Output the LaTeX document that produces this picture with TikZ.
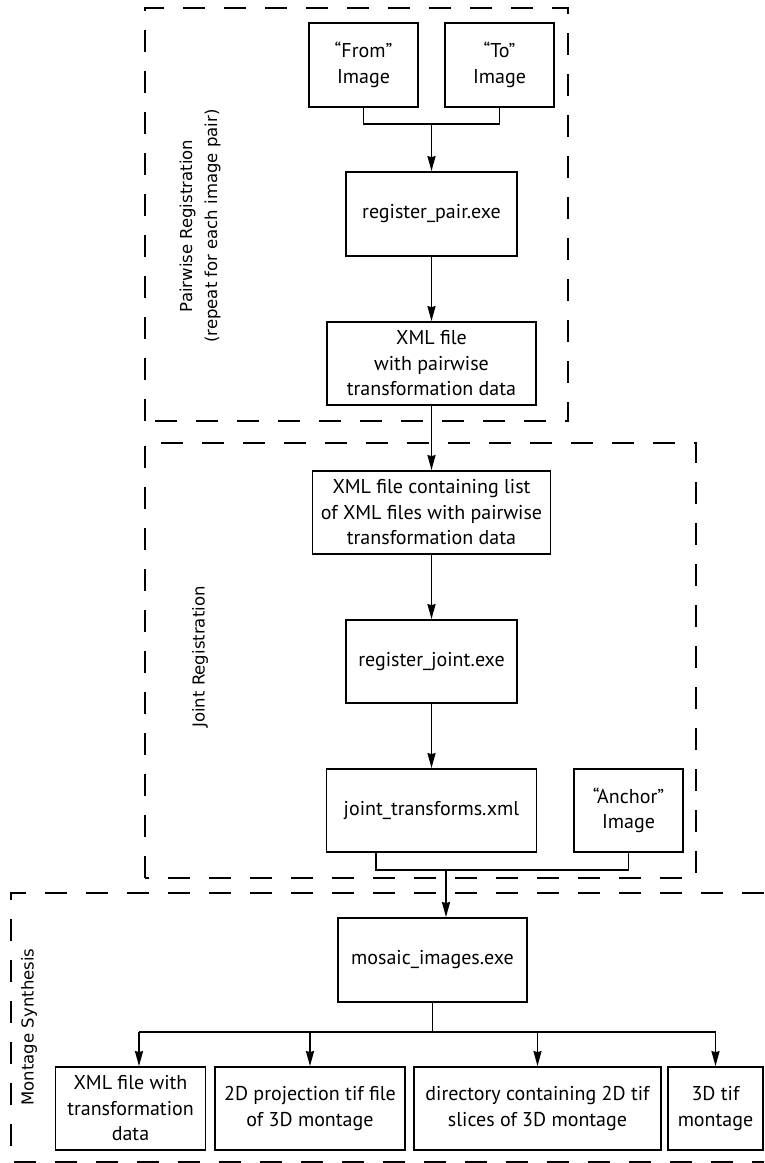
\documentclass[tikz,border=0pt]{standalone}
\usepackage{fontspec}
\setmainfont{PT Sans}
\newfontfamily\labelfont{DejaVu Sans}
\usetikzlibrary{arrows.meta}

\tikzset{
  box/.style={draw, line width=1.8pt, align=center, inner sep=0pt,
    font=\fontsize{20}{25.5}\selectfont},
  grp/.style={line width=1.8pt, dash pattern=on 22pt off 19pt},
  arr/.style={line width=1.8pt, -{Stealth[length=15pt, width=8pt, inset=1pt]}},
  lnk/.style={line width=1.8pt},
  grplabel/.style={rotate=90, align=center, font=\labelfont\fontsize{16.5}{25}\selectfont}
}

\begin{document}
\begin{tikzpicture}[x=1pt, y=-1pt]
\useasboundingbox (0,0) rectangle (764,1163);

% Stage 1: Pairwise registration
\draw[grp] (145,421) rectangle (568,8);
\node[grplabel] (pairlabel) at (200,226) {Pairwise Registration\\(repeat for each image pair)};

\node[box, minimum width=109pt, minimum height=84pt] (fromimg) at (363.5,65) {“From”\\Image};
\node[box, minimum width=109pt, minimum height=84pt] (toimg) at (499.5,65) {“To”\\Image};
\node[box, minimum width=171pt, minimum height=84pt] (regpair) at (431.5,214) {register\_pair.exe};
\node[box, minimum width=209pt, minimum height=83pt] (pairxml) at (431.5,363.5) {XML file\\with pairwise\\transformation data};

\coordinate (pairjoin) at (431.5,124);
\draw[lnk] (fromimg.south) |- (pairjoin) -| (toimg.south);
\draw[arr] (pairjoin) -- (regpair.north);
\draw[arr] (regpair) -- (pairxml);

% Stage 2: Joint registration
\draw[grp] (145,878) rectangle (696,443);
\node[grplabel] (jointlabel) at (200,657) {Joint Registration};

\node[box, minimum width=238pt, minimum height=83pt] (listxml) at (431.5,512.5) {XML file containing list\\of XML files with pairwise\\transformation data};
\node[box, minimum width=171pt, minimum height=83pt] (regjoint) at (431.5,661.5) {register\_joint.exe};
\node[box, minimum width=210pt, minimum height=83pt] (jointxml) at (431.5,810.5) {joint\_transforms.xml};
\node[box, minimum width=109pt, minimum height=83pt] (anchorimg) at (628.5,810.5) {“Anchor”\\Image};

\draw[arr] (pairxml) -- (listxml);
\draw[arr] (listxml) -- (regjoint);
\draw[arr] (regjoint) -- (jointxml);

% Stage 3: Montage synthesis
\draw[grp] (764,893) -- (11,893) -- (11,1162) -- (764,1162);
\node[grplabel] (montlabel) at (29,1027) {Montage Synthesis};

\node[box, minimum width=189pt, minimum height=84pt] (mosaic) at (432.5,960) {mosaic\_images.exe};

\coordinate (jointjoin) at (446,870);
\draw[lnk] (jointxml.south -| 376,0) |- (jointjoin) -| (anchorimg.south);
\draw[arr] (jointjoin) -- (jointjoin |- mosaic.north);

\node[box, minimum width=150pt, minimum height=83pt] (outxml) at (130.5,1108.5) {XML file with\\transformation\\data};
\node[box, minimum width=190pt, minimum height=83pt] (outproj) at (310,1108.5) {2D projection tif file\\of 3D montage};
\node[box, minimum width=247pt, minimum height=83pt] (outdir) at (537.5,1108.5) {directory containing 2D tif\\slices of 3D montage};
\node[box, minimum width=95pt, minimum height=83pt] (outtif) at (715.5,1108.5) {3D tif\\montage};

\coordinate (split) at (432.5,1032);
\draw[lnk] (mosaic.south) -- (split);
\draw[lnk] (split -| 139,0) -- (split -| outtif.north);
\draw[arr] (split -| 139,0) -- (outxml.north -| 139,0);
\draw[arr] (split -| outproj.north) -- (outproj.north);
\draw[arr] (split -| outdir.north) -- (outdir.north);
\draw[arr] (split -| outtif.north) -- (outtif.north);

\end{tikzpicture}
\end{document}
